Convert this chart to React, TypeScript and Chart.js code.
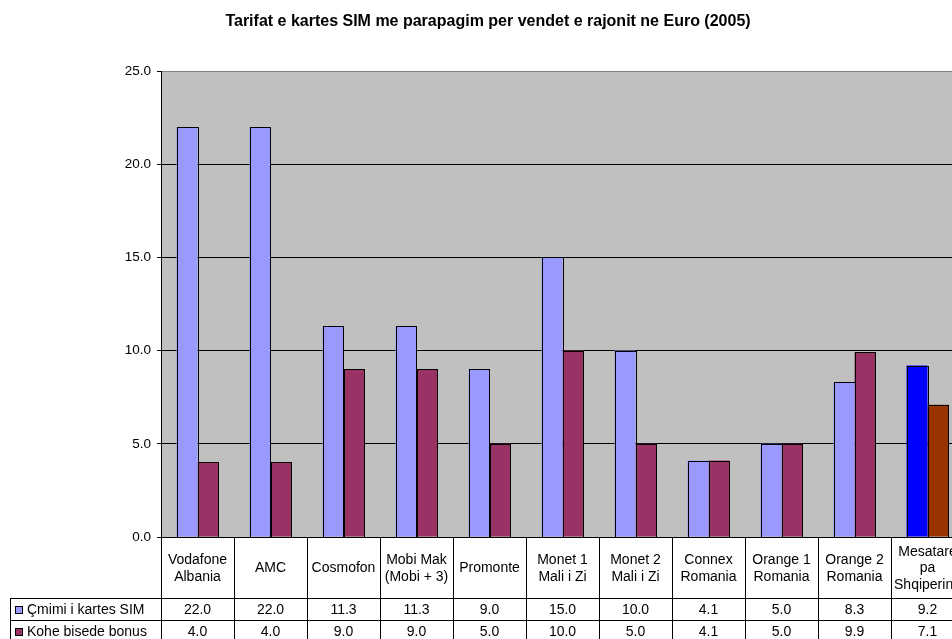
import React, { useEffect, useRef } from "react";
import { Chart, registerables } from "chart.js";
Chart.register(...registerables);

const TITLE = "Tarifat e kartes SIM me parapagim per vendet e rajonit ne Euro (2005)";
const categories: string[][] = [
  ["Vodafone", "Albania"],
  ["AMC"],
  ["Cosmofon"],
  ["Mobi Mak", "(Mobi + 3)"],
  ["Promonte"],
  ["Monet 1", "Mali i Zi"],
  ["Monet 2", "Mali i Zi"],
  ["Connex", "Romania"],
  ["Orange 1", "Romania"],
  ["Orange 2", "Romania"],
  ["Mesatare", "pa", "Shqiperine"],
];
const seriesNames = ["Çmimi i kartes SIM", "Kohe bisede bonus"];
const simPrice = [22.0, 22.0, 11.3, 11.3, 9.0, 15.0, 10.0, 4.1, 5.0, 8.3, 9.2];
const bonusTime = [4.0, 4.0, 9.0, 9.0, 5.0, 10.0, 5.0, 4.1, 5.0, 9.9, 7.1];
const yMin = 0;
const yMax = 25;
const yStep = 5;

const FONT = "'Liberation Sans', Arial, sans-serif";
const baseColors = ["#9999FF", "#993366"];
const highlightColors = ["#0000FF", "#993300"];

export default function App() {
  const ref = useRef<HTMLCanvasElement>(null);
  useEffect(() => {
    document.documentElement.style.overflow = "hidden";
    document.body.style.margin = "0";
    document.body.style.overflow = "hidden";
    const canvas = ref.current!;
    const lastIdx = categories.length - 1;
    const seriesData = [simPrice, bonusTime];

    const plugin = {
      id: "excelLook",
      beforeDraw(chart: any) {
        const { ctx, chartArea: a } = chart;
        ctx.save();
        ctx.fillStyle = "#FFFFFF";
        ctx.fillRect(0, 0, chart.width, chart.height);
        ctx.fillStyle = "#C0C0C0";
        ctx.fillRect(a.left, a.top, a.right - a.left, a.bottom - a.top);
        ctx.restore();
      },
      afterDatasetsDraw(chart: any) {
        const { ctx } = chart;
        ctx.save();
        ctx.strokeStyle = "#000";
        ctx.lineWidth = 1;
        chart.data.datasets.forEach((_: any, di: number) => {
          const meta = chart.getDatasetMeta(di);
          meta.data.forEach((bar: any) => {
            const x0 = Math.round(bar.x - bar.width / 2) + 0.5;
            const x1 = Math.round(bar.x + bar.width / 2) + 0.5;
            const y0 = Math.round(bar.y) + 0.5;
            const y1 = Math.round(bar.base) + 0.5;
            ctx.strokeRect(x0, y0, x1 - x0, y1 - y0);
          });
        });
        ctx.restore();
      },
      afterDraw(chart: any) {
        const { ctx, chartArea: a } = chart;
        const xs = chart.scales.x;
        const n = categories.length;
        const w = (a.right - a.left) / n;
        ctx.save();
        // title
        ctx.fillStyle = "#000";
        ctx.font = `bold 16px ${FONT}`;
        ctx.textAlign = "center";
        ctx.textBaseline = "middle";
        ctx.fillText(TITLE, 488, 22);

        // table
        const rowTop = a.bottom;
        const catBottom = rowTop + 61;
        const row1 = catBottom + 22;
        const row2 = row1 + 22;
        const legLeft = 10;
        ctx.strokeStyle = "#000";
        ctx.lineWidth = 1;
        ctx.beginPath();
        for (let i = 0; i <= n; i++) {
          const x = Math.round(a.left + i * w) + 0.5;
          ctx.moveTo(x, rowTop);
          ctx.lineTo(x, chart.height + 5);
        }
        ctx.moveTo(legLeft + 0.5, catBottom);
        ctx.lineTo(legLeft + 0.5, chart.height + 5);
        for (const y of [catBottom, row1, row2]) {
          ctx.moveTo(legLeft, Math.round(y) + 0.5);
          ctx.lineTo(a.right, Math.round(y) + 0.5);
        }
        ctx.stroke();

        ctx.font = `14px ${FONT}`;
        ctx.fillStyle = "#000";
        ctx.textAlign = "center";
        ctx.textBaseline = "middle";
        const lh = 16.5;
        const catMid = (rowTop + catBottom) / 2 + 1;
        categories.forEach((lines, i) => {
          const cx = xs.getPixelForValue(i);
          const y0 = catMid - ((lines.length - 1) * lh) / 2;
          lines.forEach((t, j) => ctx.fillText(t, cx, y0 + j * lh));
        });
        const rows = [(catBottom + row1) / 2 + 1, (row1 + row2) / 2 + 1];
        seriesData.forEach((vals, s) => {
          vals.forEach((v, i) => {
            ctx.fillText(v.toFixed(1), xs.getPixelForValue(i), rows[s]);
          });
        });
        // legend keys
        seriesNames.forEach((name, s) => {
          const y = rows[s];
          ctx.fillStyle = baseColors[s];
          ctx.fillRect(15, y - 4, 8, 8);
          ctx.strokeStyle = "#000";
          ctx.strokeRect(15.5, y - 3.5, 7, 7);
          ctx.fillStyle = "#000";
          ctx.textAlign = "left";
          ctx.fillText(name, 27, y);
        });
        ctx.restore();
      },
    };

    const chart = new Chart(canvas, {
      type: "bar",
      data: {
        labels: categories.map((c) => c.join(" ")),
        datasets: seriesNames.map((name, s) => ({
          label: name,
          data: seriesData[s],
          backgroundColor: (c: any) => (c.dataIndex === lastIdx ? highlightColors[s] : baseColors[s]),
          borderWidth: 0,
          categoryPercentage: 0.575,
          barPercentage: 1,
        })),
      },
      options: {
        responsive: false,
        animation: false,
        events: [],
        layout: { padding: { top: 71, bottom: 102, left: 0, right: 16 } },
        plugins: { legend: { display: false }, title: { display: false }, tooltip: { enabled: false } },
        scales: {
          x: { display: false, offset: true },
          y: {
            min: yMin,
            max: yMax,
            afterFit: (scale: any) => {
              scale.width = 161;
            },
            border: { display: true, color: "#000", width: 1 },
            grid: {
              color: (c: any) => (c.tick && c.tick.value === yMax ? "#808080" : "#000"),
              tickColor: "#000",
              tickLength: 4,
              lineWidth: 1,
            },
            ticks: {
              stepSize: yStep,
              color: "#000",
              padding: 6,
              font: { family: FONT, size: 13.5 },
              callback: (v: any) => Number(v).toFixed(1),
            },
          },
        },
      },
      plugins: [plugin],
    });
    return () => chart.destroy();
  }, []);
  return (
    <div style={{ width: 980, height: 639 }}>
      <canvas ref={ref} width={980} height={639} style={{ display: "block" }} />
    </div>
  );
}
